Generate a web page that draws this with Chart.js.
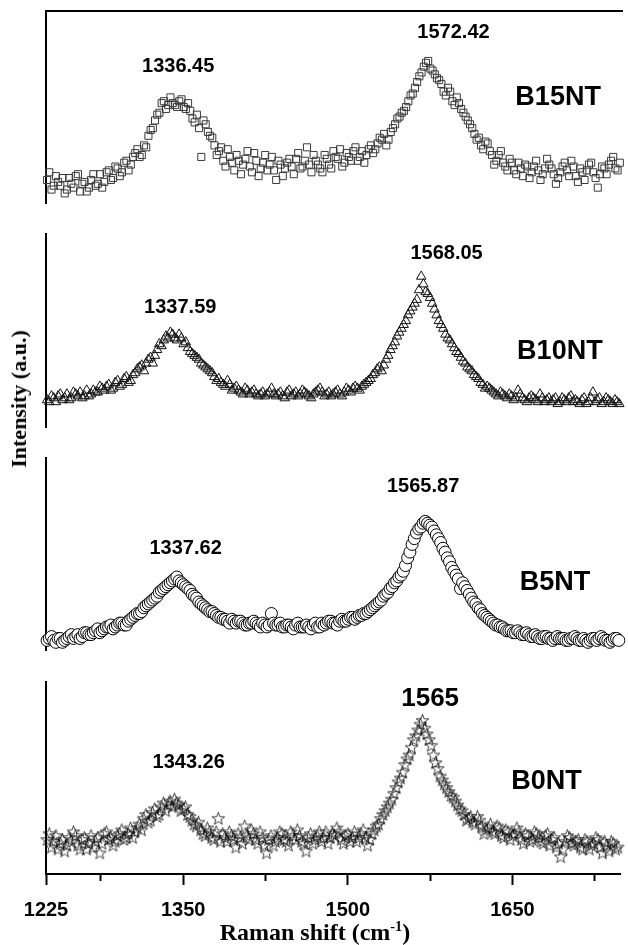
<!DOCTYPE html>
<html>
<head>
<meta charset="utf-8">
<script src="https://cdn.jsdelivr.net/npm/chart.js@4.4.0/dist/chart.umd.min.js"></script>
<style>
html,body{margin:0;padding:0;background:#fff;}
#wrap{position:relative;width:628px;height:945px;overflow:hidden;background:#fff;}
#wrap canvas{position:absolute;left:0;}
.ttl{position:absolute;white-space:nowrap;font-family:"Liberation Serif","Times New Roman",serif;font-weight:bold;color:#000;transform:translate(-50%,-50%);}
#ytitle{left:19px;top:399px;font-size:22px;transform:translate(-50%,-50%) rotate(-90deg);}
#xtitle{left:315px;top:932px;font-size:24px;}
#xtitle sup{font-size:0.6em;vertical-align:super;line-height:0;}
</style>
</head>
<body>
<div id="wrap">
  <canvas id="p0"></canvas>
  <canvas id="p1"></canvas>
  <canvas id="p2"></canvas>
  <canvas id="p3"></canvas>
  <div id="ytitle" class="ttl">Intensity (a.u.)</div>
  <div id="xtitle" class="ttl">Raman shift (cm<sup>-1</sup>)</div>
</div>
<script>
// ---------- data ----------
const ramanShift = [
1226,1228,1230,1232,1234,1236,1238,1240,1242,1244,1246,1248,1250,1252,1254,1256,1258,1260,1262,1264,
1266,1268,1270,1272,1274,1276,1278,1280,1282,1284,1286,1288,1290,1292,1294,1296,1298,1300,1302,1304,
1306,1308,1310,1312,1314,1316,1318,1320,1322,1324,1326,1328,1330,1332,1334,1336,1338,1340,1342,1344,
1346,1348,1350,1352,1354,1356,1358,1360,1362,1364,1366,1368,1370,1372,1374,1376,1378,1380,1382,1384,
1386,1388,1390,1392,1394,1396,1398,1400,1402,1404,1406,1408,1410,1412,1414,1416,1418,1420,1422,1424,
1426,1428,1430,1432,1434,1436,1438,1440,1442,1444,1446,1448,1450,1452,1454,1456,1458,1460,1462,1464,
1466,1468,1470,1472,1474,1476,1478,1480,1482,1484,1486,1488,1490,1492,1494,1496,1498,1500,1502,1504,
1506,1508,1510,1512,1514,1516,1518,1520,1522,1524,1526,1528,1530,1532,1534,1536,1538,1540,1542,1544,
1546,1548,1550,1552,1554,1556,1558,1560,1562,1564,1566,1568,1570,1572,1574,1576,1578,1580,1582,1584,
1586,1588,1590,1592,1594,1596,1598,1600,1602,1604,1606,1608,1610,1612,1614,1616,1618,1620,1622,1624,
1626,1628,1630,1632,1634,1636,1638,1640,1642,1644,1646,1648,1650,1652,1654,1656,1658,1660,1662,1664,
1666,1668,1670,1672,1674,1676,1678,1680,1682,1684,1686,1688,1690,1692,1694,1696,1698,1700,1702,1704,
1706,1708,1710,1712,1714,1716,1718,1720,1722,1724,1726,1728,1730,1732,1734,1736,1738,1740,1742,1744,
1746];

const b15nt = [
12,16,7,9,14,11,9,13,5,7,13,10,8,14,15,6,10,11,6,8,
12,15,9,10,15,8,11,16,17,12,13,19,18,14,16,21,22,17,20,24,
26,28,24,25,30,29,35,38,39,43,46,47,52,53,49,51,55,52,51,50,
53,54,50,49,52,48,44,42,46,39,24,43,41,37,35,34,30,25,27,29,
22,19,28,24,21,17,25,22,15,20,23,27,19,16,26,22,14,18,21,25,
17,20,24,17,12,22,20,14,18,21,23,19,15,23,26,18,19,22,29,20,
16,25,22,20,18,16,25,23,20,18,27,24,23,28,19,21,26,24,22,27,
29,22,24,27,21,25,28,30,26,28,31,34,33,36,30,33,37,39,41,44,
45,47,48,50,53,56,57,60,63,66,68,71,73,74,70,69,67,65,64,62,
58,56,60,58,53,51,55,52,49,47,45,43,41,39,36,33,34,30,28,32,
31,27,25,20,22,25,27,21,19,17,23,21,17,15,21,18,14,20,19,13,
16,19,22,17,12,15,18,23,20,18,15,10,13,16,19,21,17,14,22,19,
14,11,18,16,12,17,20,21,16,13,8,15,19,18,15,20,22,24,18,17,
21];

const b10nt = [
14,13,16,15,13,16,17,14,15,17,14,15,18,17,16,18,15,16,19,16,
17,19,18,18,21,20,19,21,22,19,20,23,24,21,22,25,26,23,24,27,
28,30,31,32,29,33,35,36,33,37,40,43,42,45,47,46,49,48,46,45,
48,46,43,44,41,39,38,37,36,35,33,32,31,30,29,28,26,24,25,23,
22,21,24,22,19,20,21,19,18,17,20,19,17,18,19,17,16,17,18,16,
17,18,20,17,16,17,18,16,15,18,19,16,17,18,16,17,19,18,17,16,
15,17,18,19,20,18,16,17,18,16,17,18,19,17,16,18,20,19,18,20,
21,20,19,21,22,23,24,25,27,28,30,31,29,32,35,37,40,42,44,47,
49,51,53,55,58,60,62,64,66,71,78,74,70,69,67,64,61,58,55,53,
51,48,46,45,43,41,39,38,36,34,33,31,30,29,27,26,25,23,22,20,
21,20,19,18,17,16,18,17,16,15,17,16,14,15,19,17,15,14,13,15,
16,15,14,13,17,15,13,14,15,13,14,15,12,13,15,14,13,15,16,13,
14,13,12,14,15,12,13,15,18,13,14,15,12,13,15,14,13,12,14,13,
12];

const b5nt = [
5,6,7,5,4,6,6,4,5,6,7,8,6,7,8,6,7,9,9,8,
8,9,10,11,9,10,11,12,12,13,11,12,13,14,14,13,13,15,16,17,
18,19,19,20,22,23,24,25,26,27,28,30,31,32,33,34,35,36,37,38,
36,35,34,33,32,31,29,28,27,25,24,23,22,21,20,20,19,18,17,17,
16,16,15,14,16,15,14,15,15,14,13,13,14,14,15,14,13,12,14,13,
12,13,19,14,13,13,14,12,12,13,13,12,11,13,14,12,12,12,13,12,
11,13,14,12,12,14,13,14,15,15,14,14,13,15,16,15,15,16,17,17,
16,17,18,18,19,19,20,21,22,23,24,25,26,28,29,30,32,33,35,36,
38,39,41,44,48,51,55,58,61,63,64,66,67,66,65,64,62,60,58,56,
53,51,48,46,43,41,39,37,32,35,33,31,29,27,25,24,22,21,19,18,
17,16,15,14,13,13,12,12,11,10,10,10,9,9,10,9,8,8,9,8,
7,7,8,7,6,6,7,7,6,6,5,6,7,6,6,6,5,5,6,6,
7,6,5,5,6,5,4,5,6,6,5,6,7,6,5,5,4,5,6,6,
5];

const b0nt = [
18,21,14,17,20,13,16,18,12,15,19,17,22,20,15,13,18,19,13,16,
20,14,17,19,11,16,21,22,18,19,15,17,20,21,23,18,19,21,24,19,
22,24,26,23,29,31,27,28,32,34,30,31,35,37,33,36,38,35,39,37,
36,33,34,35,31,30,28,26,25,27,23,21,20,24,22,19,18,22,29,17,
21,19,17,22,20,18,14,21,19,16,25,20,18,23,21,18,16,22,19,15,
11,18,20,15,17,19,22,21,18,17,15,22,20,18,23,20,17,16,12,19,
21,16,18,20,22,17,19,22,16,19,21,20,24,22,18,16,20,21,17,19,
22,17,19,21,23,19,15,18,21,23,25,26,29,31,33,35,37,39,42,45,
48,50,53,57,60,62,66,70,72,75,78,80,76,73,70,67,62,58,55,51,
49,47,45,43,41,40,38,36,34,33,31,28,29,30,27,26,30,28,25,21,
23,24,26,22,21,25,24,20,19,23,22,18,20,21,24,22,18,16,21,20,
17,18,22,21,19,17,16,20,21,15,18,19,14,16,9,13,17,20,19,16,
15,17,18,14,13,18,17,13,15,16,19,18,14,11,17,15,12,17,16,13,
14];

const seriesNames = ['B15NT','B10NT','B5NT','B0NT'];
const peakDLabels = ['1336.45','1337.59','1337.62','1343.26'];
const peakGLabels = ['1572.42','1568.05','1565.87','1565'];
const xTickValues = [1225,1275,1350,1425,1500,1575,1650,1725];
const xTickLabels = [1225,1350,1500,1650];

// ---------- layout / style ----------
const X_MIN = 1225, X_MAX = 1748;
const PANEL_GEO = [
  {top:11,  bottom:203},
  {top:234, bottom:427},
  {top:458, bottom:650},
  {top:682, bottom:874}
];
const LABEL_POS = [
  {d:[1345,71], g:[1595,89], n:[1690,55]},
  {d:[1347,62], g:[1589,90], n:[1692,39]},
  {d:[1352,53], g:[1568,85], n:[1688,35]},
  {d:[1355,58], g:[1575,91], n:[1681,48]}
];
const PAD = 14;
const SANS = '"Liberation Sans", Arial, sans-serif';

function makeStar(){
  const c = document.createElement('canvas');
  c.width = 15; c.height = 15;
  const g = c.getContext('2d');
  g.beginPath();
  for (let k = 0; k < 10; k++) {
    const r = (k % 2) ? 2.7 : 6.6;
    const a = -Math.PI/2 + k*Math.PI/5;
    const px = 7.5 + r*Math.cos(a), py = 8 + r*Math.sin(a);
    if (k) g.lineTo(px, py); else g.moveTo(px, py);
  }
  g.closePath();
  g.strokeStyle = '#000';
  g.lineWidth = 0.75;
  g.stroke();
  return c;
}

const MARKERS = [
  {pointStyle:'rect', pointRadius:5, pointBorderColor:'#3a3a3a', pointBackgroundColor:'rgba(255,255,255,0)', pointBorderWidth:1},
  {pointStyle:'triangle', pointRadius:5.5, pointBorderColor:'#111', pointBackgroundColor:'rgba(255,255,255,0)', pointBorderWidth:1},
  {pointStyle:'circle', pointRadius:6, pointBorderColor:'#000', pointBackgroundColor:'#fff', pointBorderWidth:1},
  {pointStyle:makeStar(), pointRadius:7, pointBorderColor:'#000', pointBackgroundColor:'rgba(255,255,255,0)', pointBorderWidth:1}
];

const labelPlugin = {
  id: 'peakLabels',
  afterDatasetsDraw(chart, args, opts) {
    const {ctx, scales} = chart;
    ctx.save();
    ctx.fillStyle = '#000';
    ctx.textAlign = 'center';
    ctx.textBaseline = 'middle';
    opts.items.forEach(it => {
      ctx.font = 'bold ' + it.size + 'px ' + SANS;
      ctx.fillText(it.text, scales.x.getPixelForValue(it.x), scales.y.getPixelForValue(it.y));
    });
    ctx.restore();
  }
};

function buildPanel(idx, values) {
  const geo = PANEL_GEO[idx];
  const isTop = idx === 0;
  const isBottom = idx === PANEL_GEO.length - 1;
  const cv = document.getElementById('p' + idx);
  const cTop = geo.top - PAD;
  const cH = isBottom ? (945 - cTop) : (geo.bottom - geo.top + 2*PAD);
  cv.style.top = cTop + 'px';
  cv.width = 628; cv.height = cH;

  const pts = ramanShift.map((x, i) => ({x: x, y: values[i]}));
  const lp = LABEL_POS[idx];
  const items = [
    {text: peakDLabels[idx], x: lp.d[0], y: lp.d[1], size: 20},
    {text: peakGLabels[idx], x: lp.g[0], y: lp.g[1], size: isBottom ? 26 : 20},
    {text: seriesNames[idx], x: lp.n[0], y: lp.n[1], size: 27}
  ];

  let xScale;
  if (isBottom) {
    xScale = {
      type: 'linear', position: 'bottom', min: X_MIN, max: X_MAX,
      afterBuildTicks: s => { s.ticks = xTickValues.map(v => ({value: v})); },
      afterFit: s => { s.height = 945 - geo.bottom; },
      ticks: {
        autoSkip: false, maxRotation: 0, padding: 13, color: '#000',
        font: {family: SANS, size: 20, weight: 'bold'},
        callback: v => xTickLabels.includes(v) ? String(v) : ''
      },
      grid: {
        display: true, drawOnChartArea: false, drawTicks: true,
        tickLength: 11, tickWidth: 2, tickColor: '#000',
        tickBorderDash: c => (c.tick && xTickLabels.includes(c.tick.value)) ? [] : [6, 30]
      },
      border: {display: true, color: '#000', width: 2}
    };
  } else if (isTop) {
    xScale = {
      type: 'linear', position: 'top', min: X_MIN, max: X_MAX,
      afterFit: s => { s.height = 0; },
      ticks: {display: false},
      grid: {display: false, drawTicks: false},
      border: {display: true, color: '#000', width: 2}
    };
  } else {
    xScale = {type: 'linear', min: X_MIN, max: X_MAX, display: false};
  }

  return new Chart(cv, {
    type: 'scatter',
    data: {
      datasets: [Object.assign({label: seriesNames[idx], data: pts, showLine: false, clip: false}, MARKERS[idx])]
    },
    options: {
      responsive: false, animation: false, devicePixelRatio: 1,
      layout: {padding: {left: 46, right: 0, top: PAD, bottom: isBottom ? 0 : PAD}},
      plugins: {legend: {display: false}, tooltip: {enabled: false}, peakLabels: {items: items}},
      scales: {
        x: xScale,
        y: {
          type: 'linear', min: 0, max: 100, position: 'left',
          afterFit: s => { s.width = 0; },
          ticks: {display: false},
          grid: {display: false, drawTicks: false},
          border: {display: true, color: '#000', width: 2}
        }
      }
    },
    plugins: [labelPlugin]
  });
}

[b15nt, b10nt, b5nt, b0nt].forEach((vals, i) => buildPanel(i, vals));
</script>
</body>
</html>
